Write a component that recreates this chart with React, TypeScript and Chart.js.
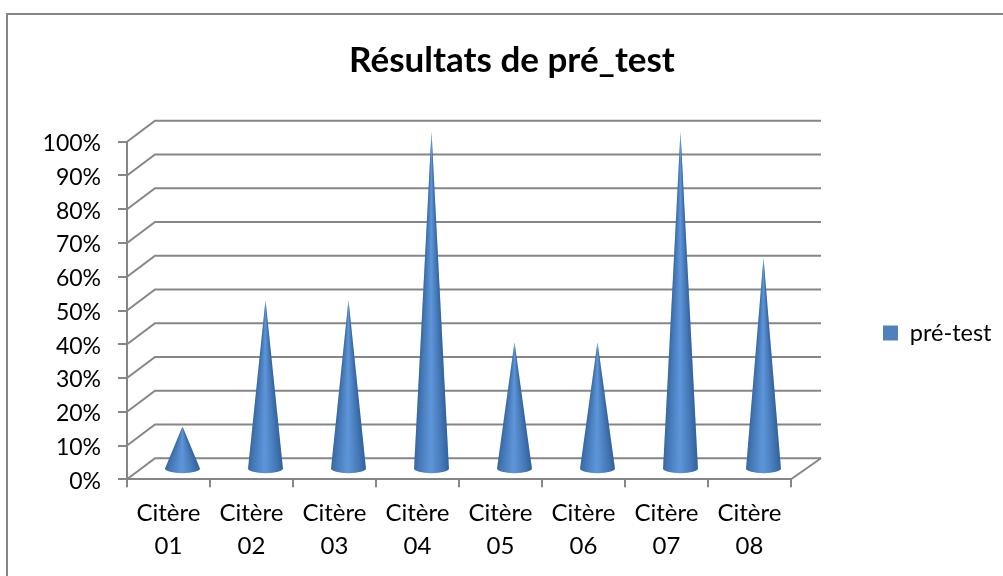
import React, { useEffect, useRef } from "react";
import { Chart, registerables } from "chart.js";

Chart.register(...registerables);

const chartTitle = "Résultats de pré_test";
const seriesName = "pré-test";
const categories = [
  ["Citère", "01"],
  ["Citère", "02"],
  ["Citère", "03"],
  ["Citère", "04"],
  ["Citère", "05"],
  ["Citère", "06"],
  ["Citère", "07"],
  ["Citère", "08"],
];
const preTest = [12.5, 50, 50, 100, 37.5, 37.5, 100, 62.5];

const FONT = "Lato, Carlito, sans-serif";
const GRID = "#868686";
const DEPTH_X = 28;
const DEPTH_Y = 21;
const EDGE = [50, 98, 156];
const MID = [94, 150, 218];

function shade(x: number) {
  const k = Math.pow(Math.max(0, 1 - Math.abs(x + 0.05)), 0.8);
  const c = EDGE.map((e, i) => Math.round(e + (MID[i] - e) * k));
  return `rgb(${c[0]},${c[1]},${c[2]})`;
}

const wallPlugin = {
  id: "wall",
  beforeDatasetsDraw(chart: any) {
    const { ctx, chartArea, scales } = chart;
    ctx.save();
    ctx.strokeStyle = GRID;
    ctx.lineWidth = 2;
    for (const t of scales.y.ticks) {
      const y = scales.y.getPixelForValue(t.value);
      ctx.beginPath();
      ctx.moveTo(chartArea.left, y);
      ctx.lineTo(chartArea.left + DEPTH_X, y - DEPTH_Y);
      ctx.lineTo(chartArea.right + DEPTH_X + 2, y - DEPTH_Y);
      ctx.stroke();
    }
    ctx.beginPath();
    ctx.moveTo(chartArea.right, chartArea.bottom);
    ctx.lineTo(chartArea.right + DEPTH_X + 2, chartArea.bottom - DEPTH_Y);
    ctx.stroke();
    ctx.restore();
  },
};

const conePlugin = {
  id: "cones",
  beforeDatasetDraw(chart: any, args: any) {
    const { ctx } = chart;
    const meta = chart.getDatasetMeta(args.index);
    for (const el of meta.data) {
      const cx = el.x + DEPTH_X / 2;
      const cy = el.base - DEPTH_Y / 2 + 0.8;
      const tipY = el.y - DEPTH_Y / 2;
      const rx = el.width / 2;
      const ry = 4.6;
      ctx.save();
      ctx.beginPath();
      ctx.moveTo(cx, tipY);
      ctx.lineTo(cx + rx, cy);
      ctx.ellipse(cx, cy, rx, ry, 0, 0, Math.PI);
      ctx.closePath();
      ctx.clip();
      const top = Math.floor(tipY) - 1;
      const bottom = Math.ceil(cy + ry) + 1;
      for (let y = top; y < bottom; y++) {
        const f = Math.min(1, Math.max(0.002, (y + 0.5 - tipY) / (cy - tipY)));
        const w = rx * f;
        const g = ctx.createLinearGradient(cx - w, 0, cx + w, 0);
        for (let s = 0; s <= 16; s++) {
          g.addColorStop(s / 16, shade(s / 8 - 1));
        }
        ctx.fillStyle = g;
        ctx.fillRect(cx - w - 2, y, 2 * w + 4, 1.2);
      }
      ctx.restore();
    }
    return false;
  },
};

const framePlugin = {
  id: "frame",
  beforeDraw(chart: any) {
    const { ctx, width, height } = chart;
    ctx.save();
    ctx.fillStyle = "#ffffff";
    ctx.fillRect(0, 0, width, height);
    ctx.strokeStyle = GRID;
    ctx.lineWidth = 2;
    ctx.beginPath();
    ctx.moveTo(7, height);
    ctx.lineTo(7, 14);
    ctx.lineTo(width, 14);
    ctx.stroke();
    ctx.restore();
  },
  afterLayout(chart: any) {
    const lg = chart.legend;
    const dx = 883 - (lg.left + lg.options.labels.padding);
    const dy = 333 - (lg.top + lg.bottom) / 2;
    lg.left += dx;
    lg.right += dx;
    lg.top += dy;
    lg.bottom += dy;
  },
};

export default function App() {
  const ref = useRef<HTMLCanvasElement | null>(null);
  useEffect(() => {
    document.body.style.margin = "0";
    const chart = new Chart(ref.current as HTMLCanvasElement, {
      type: "bar",
      data: {
        labels: categories as any,
        datasets: [
          {
            label: seriesName,
            data: preTest,
            backgroundColor: "#4F81BD",
            barPercentage: 0.42,
            categoryPercentage: 1,
          },
        ],
      },
      plugins: [framePlugin, wallPlugin, conePlugin],
      options: {
        responsive: false,
        animation: false,
        layout: { autoPadding: false, padding: { left: 21, right: 0, top: 0, bottom: 0 } },
        plugins: {
          tooltip: { enabled: false },
          title: {
            display: true,
            text: chartTitle,
            color: "#000000",
            font: { family: FONT, size: 35, weight: "bold", lineHeight: 1.2 },
            padding: { top: 39.5, bottom: 60.2 },
          },
          legend: {
            position: "right",
            maxWidth: 212,
            labels: {
              color: "#000000",
              font: { family: FONT, size: 23.5 },
              boxWidth: 15,
              boxHeight: 15,
              padding: 96,
            },
          },
        },
        scales: {
          x: {
            offset: true,
            afterFit(s: any) {
              s.height = 96.7;
            },
            grid: {
              offset: true,
              drawOnChartArea: false,
              drawTicks: true,
              tickLength: 8,
              color: GRID,
              lineWidth: 2,
            },
            border: { display: true, color: GRID, width: 2 },
            ticks: {
              color: "#000000",
              maxRotation: 0,
              autoSkip: false,
              padding: 9,
              font: { family: FONT, size: 24, lineHeight: 1.38 },
            },
          },
          y: {
            min: 0,
            max: 100,
            afterFit(s: any) {
              s.width = 106;
            },
            grid: {
              drawOnChartArea: false,
              drawTicks: true,
              tickLength: 9,
              color: GRID,
              lineWidth: 2,
            },
            border: { display: true, color: GRID, width: 2 },
            ticks: {
              stepSize: 10,
              color: "#000000",
              padding: 17,
              labelOffset: 2,
              font: { family: FONT, size: 23 },
              callback: (v: any) => `${v}%`,
            },
          },
        },
      },
    } as any);
    return () => chart.destroy();
  }, []);
  return (
    <canvas
      ref={ref}
      width={1003}
      height={576}
      style={{ display: "block", width: 1003, height: 576 }}
    />
  );
}
